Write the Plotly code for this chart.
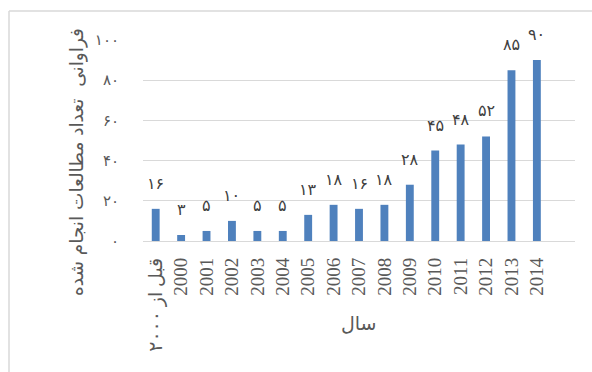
import plotly.graph_objects as go

categories = ["قبل از ۲۰۰۰", "2000", "2001", "2002", "2003", "2004", "2005", "2006",
              "2007", "2008", "2009", "2010", "2011", "2012", "2013", "2014"]
values = [16, 3, 5, 10, 5, 5, 13, 18, 16, 18, 28, 45, 48, 52, 85, 90]
y_ticks = [0, 20, 40, 60, 80, 100]
y_title = "فراوانی  تعداد مطالعات انجام شده"
x_title = "سال"

FA = str.maketrans("0123456789", "۰۱۲۳۴۵۶۷۸۹")
def fa(n):
    return str(n).translate(FA)

W, H = 592, 372
L, R, T, B = 143, 17, 40, 131
pw, ph = W - L - R, H - T - B
def px(x):
    return (x - L) / pw
def py(y):
    return (H - B - y) / ph

fig = go.Figure()
xs = list(range(len(categories)))
fig.add_trace(go.Bar(x=xs, y=values, width=0.31, marker=dict(color="#4f81bd", line=dict(width=0))))

for i, v in enumerate(values):
    fig.add_annotation(x=i, y=v, text=fa(v), showarrow=False, yanchor="bottom", yshift=14,
                       font=dict(family="DejaVu Sans", size=16, color="#404040"))

fig.add_annotation(xref="paper", yref="paper", x=px(64), y=py(162), text=y_title, textangle=-90,
                   showarrow=False, font=dict(family="DejaVu Sans", size=18.5, color="#595959"))
fig.add_annotation(xref="paper", yref="paper", x=px(359), y=py(336), text=x_title,
                   showarrow=False, font=dict(family="DejaVu Sans", size=19, color="#595959"))

# outer chart border (left and top visible)
fig.add_shape(type="line", xref="paper", yref="paper", x0=px(9), x1=px(9), y0=py(11), y1=py(380),
              line=dict(color="#d9d9d9", width=1.5))
fig.add_shape(type="line", xref="paper", yref="paper", x0=px(9), x1=px(600), y0=py(11), y1=py(11),
              line=dict(color="#d9d9d9", width=1.5))

fig.update_layout(
    width=W, height=H, margin=dict(l=L, r=R, t=T, b=B),
    paper_bgcolor="white", plot_bgcolor="white", showlegend=False,
    xaxis=dict(range=[-0.5, 16.5], tickmode="array", tickvals=xs, ticktext=categories,
               tickangle=-90, showgrid=False, zeroline=False, showline=False,
               ticks="", ticklabelstandoff=12,
               tickfont=dict(family="Liberation Serif, DejaVu Sans", size=19, color="#595959")),
    yaxis=dict(range=[0, 100], tickmode="array", tickvals=y_ticks, ticktext=[fa(t) for t in y_ticks],
               showgrid=True, gridcolor="#d9d9d9", gridwidth=1.3, zeroline=True,
               zerolinecolor="#d9d9d9", zerolinewidth=1.3, showline=False, ticks="",
               ticklabelstandoff=23,
               tickfont=dict(family="DejaVu Sans", size=15, color="#595959")),
)
fig.write_html("out.html")
